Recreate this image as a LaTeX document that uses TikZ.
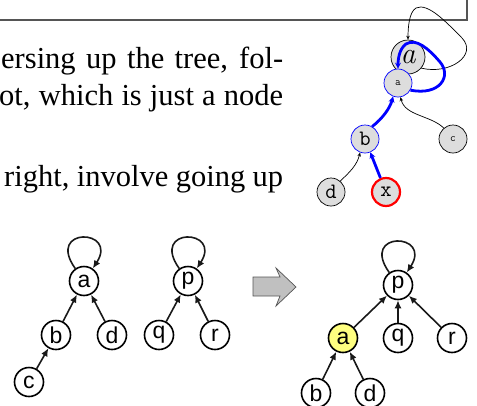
\documentclass[tikz,border=0pt]{standalone}
\usepackage{fontspec}
\setmainfont{Liberation Serif}
\newfontfamily\sansf{Liberation Sans}
\newfontfamily\lmrom{Latin Modern Roman}
\usetikzlibrary{arrows.meta}
\definecolor{nodegray}{HTML}{DDDDDD}
\definecolor{hlyellow}{HTML}{FFFF80}
\definecolor{arrowgray}{HTML}{C0C0C0}
\definecolor{linegray}{HTML}{555555}
\begin{document}
\begin{tikzpicture}[x=1pt,y=-1pt,
 para/.style={anchor=base west, inner sep=0pt, font=\fontsize{30.5}{36}\selectfont},
 gnode/.style={circle, draw=black, fill=nodegray, line width=0.7pt, inner sep=0pt, minimum size=28pt},
 monobig/.style={font=\ttfamily\fontsize{22}{22}\selectfont},
 monosmall/.style={font=\ttfamily\fontsize{11}{11}\selectfont},
 thinarr/.style={draw=black, line width=0.7pt, -{Stealth[length=4pt,width=3.5pt]}},
 bluearr/.style={draw=blue, line width=2.8pt, -{Stealth[length=6pt,width=6pt]}},
 tnode/.style={circle, draw=black, line width=1.6pt, fill=white, inner sep=0pt, minimum size=29pt, font=\sansf\fontsize{23}{23}\selectfont},
 tarr/.style={draw=black!90, line width=1.6pt, -{Latex[length=8pt,width=7pt]}},
 boxline/.style={draw=linegray, line width=1.2pt},
]
\useasboundingbox (0,0) rectangle (477,405);
\clip (0,0) rectangle (477,405);

% top box
\draw[boxline] (-5,-40) rectangle (467,20);

% paragraph text
\node[para] (t1) at (1,68) {\hbox to 282pt{ersing up the tree, fol-}};
\node[para] (t2) at (-1,105) {\hbox to 284pt{ot, which is just a node}};
\node[para] (t3) at (4,186) {\hbox to 279pt{right, involve going up}};

% upper-right diagram
\node[gnode, minimum size=34pt, font=\lmrom\itshape\fontsize{30}{30}\selectfont] (A) at (408,57) {a};
\node[gnode, draw=blue, monosmall] (sa) at (398,83) {a};
\node[gnode, draw=blue, monobig] (b) at (365,139) {b};
\node[gnode, monosmall] (c) at (453,139) {c};
\node[gnode, monobig] (d) at (331,192) {d};
\node[gnode, draw=red, line width=2.2pt, monobig] (x) at (386,192) {x};

\draw[thinarr] (A.-40) .. controls (450,75) and (478,55) .. (462,38)
  .. controls (448,24) and (428,2) .. (416,8)
  .. controls (409,12) and (408,28) .. (A.north);
\draw[thinarr] (d.50) .. controls (350,172) and (357,165) .. (b.-110);
\draw[thinarr] (c.130) .. controls (430,115) and (405,116) .. (sa.-80);
\draw[bluearr] (sa.-30) .. controls (440,96) and (452,76) .. (440,62)
  .. controls (428,48) and (416,38) .. (406,44)
  .. controls (399,49) and (398,60) .. (sa.north);
\draw[bluearr] (b.60) .. controls (383,118) and (390,108) .. (sa.-110);
\draw[bluearr] (x) -- (b);

% lower-left forest
\node[tnode] (a1) at (84,281) {a};
\node[tnode] (b1) at (56,335) {b};
\node[tnode] (d1) at (112,335) {d};
\node[tnode] (c1) at (29,382) {c};
\node[tnode] (p1) at (188,281) {p};
\node[tnode] (q1) at (159,335) {q};
\node[tnode] (r1) at (215,335) {r};
\draw[tarr] (b1) -- (a1);
\draw[tarr] (d1) -- (a1);
\draw[tarr] (c1) -- (b1);
\draw[tarr] (q1) -- (p1);
\draw[tarr] (r1) -- (p1);
\draw[tarr] (a1.125) .. controls +(-30,-42) and +(26,-40) .. (a1.55);
\draw[tarr] (p1.125) .. controls +(-30,-42) and +(26,-40) .. (p1.55);

% gray block arrow
\draw[draw=linegray, fill=arrowgray, line width=0.7pt]
  (253,277) -- (280,277) -- (276,268) -- (296,287) -- (276,306) -- (280,296) -- (253,296) -- cycle;

% lower-right tree
\node[tnode] (p2) at (398,285) {p};
\node[tnode, fill=hlyellow] (a2) at (343,338) {a};
\node[tnode] (q2) at (398,338) {q};
\node[tnode] (r2) at (452,338) {r};
\node[tnode] (b2) at (316,393) {b};
\node[tnode] (d2) at (370,393) {d};
\coordinate (below) at (296,430);
\draw[tarr] (a2) -- (p2);
\draw[tarr] (q2) -- (p2);
\draw[tarr] (r2) -- (p2);
\draw[tarr] (b2) -- (a2);
\draw[tarr] (d2) -- (a2);
\draw[tarr] (below) -- (b2);
\draw[tarr] (p2.125) .. controls +(-30,-42) and +(26,-40) .. (p2.55);
\end{tikzpicture}
\end{document}
